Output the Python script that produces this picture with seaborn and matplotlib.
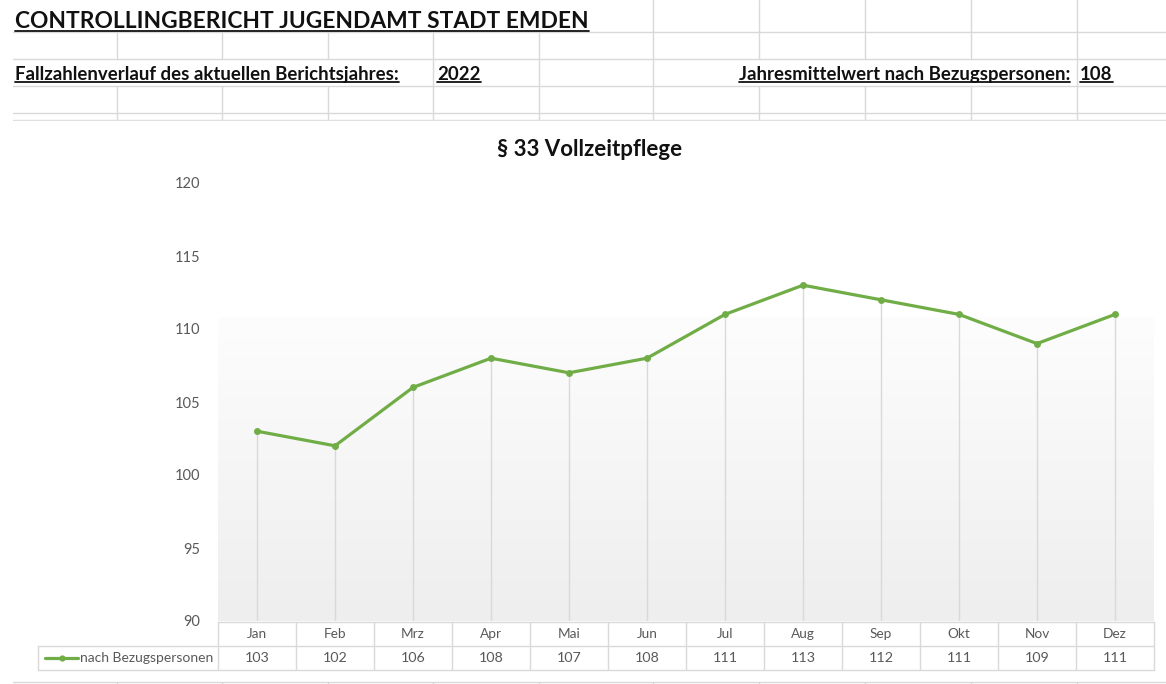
import numpy as np
import pandas as pd
import seaborn as sns
import matplotlib.pyplot as plt
import matplotlib.transforms as mtransforms
from matplotlib.lines import Line2D
from matplotlib.colors import LinearSegmentedColormap

months = ['Jan', 'Feb', 'Mrz', 'Apr', 'Mai', 'Jun', 'Jul', 'Aug', 'Sep', 'Okt', 'Nov', 'Dez']
cases = [103, 102, 106, 108, 107, 108, 111, 113, 112, 111, 109, 111]
series_name = 'nach Bezugspersonen'
report_year = '2022'
chart_title = '§ 33 Vollzeitpflege'
y_ticks = [90, 95, 100, 105, 110, 115, 120]

W, H = 1166, 684
GREEN = '#70ad47'
GRID = '#d9d9d9'
TXT = '#595959'


def fx(x):
    return x / W


def fy(y):
    return 1 - y / H


def hline(fig, y, x0, x1, color=GRID, lw=1.0):
    fig.add_artist(Line2D([fx(x0), fx(x1)], [fy(y), fy(y)], transform=fig.transFigure,
                          color=color, lw=lw, zorder=1))


def vline(fig, x, y0, y1, color=GRID, lw=1.0):
    fig.add_artist(Line2D([fx(x), fx(x)], [fy(y0), fy(y1)], transform=fig.transFigure,
                          color=color, lw=lw, zorder=1))


df = pd.DataFrame({'pos': range(len(months)), 'month': months, 'cases': cases})
mean_value = int(round(np.mean(cases)))

sns.set_theme(style='white')
plt.rcParams['font.family'] = ['Lato', 'DejaVu Sans']

fig = plt.figure(figsize=(W / 100, H / 100), dpi=100)

# spreadsheet grid behind the header
sheet_cols = [117, 222, 328, 433, 539, 653, 759, 865, 971, 1077]
for y in [32, 59, 86, 113, 120, 682]:
    hline(fig, y, 13, W)
for x in sheet_cols:
    if x >= 653:
        vline(fig, x, 0, 32)
    vline(fig, x, 32, 59)
    if x in (433, 539, 653, 1077):
        vline(fig, x, 59, 86)
    vline(fig, x, 86, 120)
    vline(fig, x, 682, 684)

# white chart area
fig.add_artist(plt.Rectangle((fx(13), fy(680)), fx(W) - fx(13), fy(121) - fy(680),
                             transform=fig.transFigure, color='white', zorder=2))

# header texts
heads = []
heads.append(fig.text(fx(15), fy(28), 'CONTROLLINGBERICHT JUGENDAMT STADT EMDEN',
                      fontsize=16.4, fontweight='bold', color='#111111', va='baseline', zorder=3))
heads.append(fig.text(fx(15), fy(80), 'Fallzahlenverlauf des aktuellen Berichtsjahres:',
                      fontsize=13.4, fontweight='bold', color='#111111', va='baseline', zorder=3))
heads.append(fig.text(fx(437), fy(80), report_year,
                      fontsize=13.4, fontweight='bold', color='#111111', va='baseline', zorder=3))
heads.append(fig.text(fx(1070), fy(80), 'Jahresmittelwert nach Bezugspersonen:',
                      fontsize=13.4, fontweight='bold', color='#111111', va='baseline', ha='right', zorder=3))
heads.append(fig.text(fx(1080), fy(80), str(mean_value),
                      fontsize=13.4, fontweight='bold', color='#111111', va='baseline', zorder=3))

# plot area
ax = fig.add_axes([fx(218), fy(621), fx(1154) - fx(218), fy(183) - fy(621)], zorder=4)
ax.set_facecolor('none')
for s in ax.spines.values():
    s.set_visible(False)

grad = LinearSegmentedColormap.from_list('bg', ['#fdfdfd', '#eeeeee'])
ax.imshow(np.linspace(0, 1, 256).reshape(-1, 1), cmap=grad, aspect='auto',
          extent=[-0.5, len(months) - 0.5, 90, 110.8], origin='upper', zorder=0)

ax.vlines(df['pos'], 90, df['cases'], color=GRID, lw=1.0, zorder=1)
sns.lineplot(data=df, x='pos', y='cases', color=GREEN, lw=2.3, marker='o',
             markersize=5, markeredgewidth=0, ax=ax, zorder=3)

ax.set_xlim(-0.5, len(months) - 0.5)
ax.set_ylim(90, 120)
ax.set_yticks(y_ticks)
ax.set_yticklabels([str(t) for t in y_ticks], color=TXT, fontsize=10.5)
ax.set_xticks([])
ax.tick_params(axis='y', length=0, pad=13)
ax.set_xlabel('')
ax.set_ylabel('')

fig.text(fx(590), fy(150), chart_title, ha='center', va='center', fontsize=16,
         fontweight='bold', color='#111111', zorder=5)

# data table under the chart
tr = mtransforms.blended_transform_factory(ax.transData, fig.transFigure)
for i, (m, v) in enumerate(zip(months, cases)):
    fig.text(i, fy(634), m, transform=tr, ha='center', va='center', fontsize=9.8, color=TXT, zorder=5)
    fig.text(i, fy(658), str(v), transform=tr, ha='center', va='center', fontsize=10.3, color=TXT, zorder=5)
for i in range(len(months) + 1):
    fig.add_artist(Line2D([i - 0.5, i - 0.5], [fy(622), fy(670)], transform=tr, color=GRID, lw=1.0, zorder=5))
for y, x0 in [(622, 218), (646, 38), (670, 38)]:
    fig.add_artist(Line2D([fx(x0), fx(1154)], [fy(y), fy(y)], transform=fig.transFigure,
                          color=GRID, lw=1.0, zorder=5))
fig.add_artist(Line2D([fx(38), fx(38)], [fy(646), fy(670)], transform=fig.transFigure,
                      color=GRID, lw=1.0, zorder=5))
fig.add_artist(Line2D([fx(45), fx(78)], [fy(658), fy(658)], transform=fig.transFigure,
                      color=GREEN, lw=2.3, zorder=6))
fig.add_artist(Line2D([fx(61.5)], [fy(658)], transform=fig.transFigure, color=GREEN,
                      marker='o', markersize=4.5, markeredgewidth=0, zorder=7))
fig.text(fx(80), fy(658), series_name, ha='left', va='center', fontsize=10, color=TXT, zorder=6)

# underline the header texts
fig.canvas.draw()
for t in heads:
    bb = t.get_window_extent()
    yy = bb.y0 + 1.5
    fig.add_artist(Line2D([bb.x0 / W, bb.x1 / W], [yy / H, yy / H], transform=fig.transFigure,
                          color='#111111', lw=1.3, zorder=4))

fig.savefig('out.png', dpi=100, facecolor='white')
